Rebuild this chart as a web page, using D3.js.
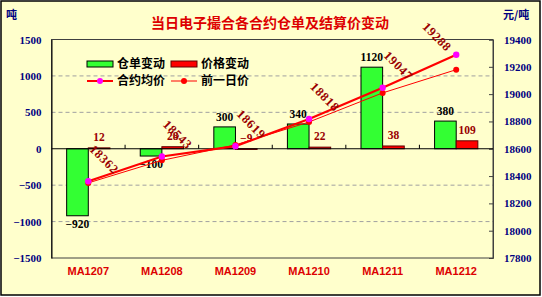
<!DOCTYPE html>
<html>
<head>
<meta charset="utf-8">
<script src="https://cdn.jsdelivr.net/npm/d3@7"></script>
<style>
  body { margin: 0; background: #fff; }
  svg { display: block; }
</style>
</head>
<body>
<script>
// chart size
const width = 542;
const height = 297;

// data
const contracts = ["MA1207", "MA1208", "MA1209", "MA1210", "MA1211", "MA1212"];
const warrantChange = [-920, -100, 300, 340, 1120, 380];
const priceChange = [12, 28, -9, 22, 38, 109];
const avgPrice = [18362, 18543, 18619, 18818, 19047, 19288];
const prevPrice = [18350, 18515, 18628, 18796, 19009, 19179];
const leftTicks = [-1500, -1000, -500, 0, 500, 1000, 1500];
const rightTicks = [17800, 18000, 18200, 18400, 18600, 18800, 19000, 19200, 19400];

// plot area
const plot = { left: 51.5, right: 493, top: 39.5, bottom: 258 };

const numFont = "'Liberation Serif', 'Times New Roman', serif";
const cjkFont = "'Noto Sans CJK SC', sans-serif";

var svg = d3.select("body").append("svg")
  .attr("width", width)
  .attr("height", height);

// background and outer frame
svg.append("rect")
  .attr("x", 1).attr("y", 1)
  .attr("width", width - 3).attr("height", height - 3)
  .style("fill", "#ffffcc")
  .style("stroke", "#000")
  .style("stroke-width", 1.5);

// scales
var x = d3.scaleBand().domain(contracts).range([plot.left, plot.right]);
var xSub = d3.scaleBand().domain(["warrant", "price"])
  .range([x.bandwidth() * 0.206, x.bandwidth() * 0.794]);
var yL = d3.scaleLinear().domain([-1500, 1500]).range([plot.bottom, plot.top]);
var yR = d3.scaleLinear().domain([17800, 19400]).range([plot.bottom, plot.top]);
const cx = d => x(d) + x.bandwidth() / 2;
const minus = v => String(v).replace("-", "\u2212");

// dashed grid lines from left axis
svg.append("g").selectAll("line")
  .data(leftTicks.filter(d => d !== 0 && Math.abs(d) !== 1500))
  .enter().append("line")
  .attr("x1", plot.left).attr("x2", plot.right)
  .attr("y1", d => yL(d)).attr("y2", d => yL(d))
  .style("stroke", "#a0a0a0")
  .style("stroke-dasharray", "4,3");

// plot border
svg.append("rect")
  .attr("x", plot.left).attr("y", plot.top)
  .attr("width", plot.right - plot.left).attr("height", plot.bottom - plot.top)
  .style("fill", "none")
  .style("stroke", "#404040");

// left axis
var gL = svg.append("g")
  .attr("transform", "translate(" + plot.left + ",0)")
  .call(d3.axisLeft(yL).tickValues(leftTicks).tickSize(0).tickPadding(10).tickFormat(minus));
gL.select(".domain").style("stroke", "#000");
gL.selectAll("text")
  .style("font-family", numFont).style("font-weight", "bold")
  .style("font-size", "11px").style("fill", "#000080");

// right axis
var gR = svg.append("g")
  .attr("transform", "translate(" + plot.right + ",0)")
  .call(d3.axisRight(yR).tickValues(rightTicks).tickSize(-4).tickPadding(11).tickFormat(d3.format("d")));
gR.select(".domain").style("stroke", "#404040");
gR.selectAll("line").style("stroke", "#404040");
gR.selectAll("text")
  .style("font-family", numFont).style("font-weight", "bold")
  .style("font-size", "11px").style("fill", "#000080");

// bars
var groups = svg.append("g").selectAll("g")
  .data(contracts)
  .enter().append("g")
  .attr("transform", d => "translate(" + x(d) + ",0)");

groups.append("rect")
  .attr("x", xSub("warrant"))
  .attr("width", xSub.bandwidth())
  .attr("y", (d, i) => yL(Math.max(0, warrantChange[i])))
  .attr("height", (d, i) => Math.abs(yL(warrantChange[i]) - yL(0)))
  .style("fill", "#33ff33")
  .style("stroke", "#000")
  .style("stroke-width", 1);

groups.append("rect")
  .attr("x", xSub("price"))
  .attr("width", xSub.bandwidth())
  .attr("y", (d, i) => yL(Math.max(0, priceChange[i])))
  .attr("height", (d, i) => Math.abs(yL(priceChange[i]) - yL(0)))
  .style("fill", "#ff0000")
  .style("stroke", "#600000")
  .style("stroke-width", 1);

// zero line with category ticks
svg.append("line")
  .attr("x1", plot.left).attr("x2", plot.right)
  .attr("y1", yL(0)).attr("y2", yL(0))
  .style("stroke", "#000");
svg.append("g").selectAll("line")
  .data(contracts.slice(1))
  .enter().append("line")
  .attr("x1", d => x(d)).attr("x2", d => x(d))
  .attr("y1", yL(0)).attr("y2", yL(0) - 4)
  .style("stroke", "#000");

// bar labels
groups.append("text")
  .attr("x", xSub("warrant") + xSub.bandwidth() / 2)
  .attr("y", (d, i) => warrantChange[i] >= 0 ? yL(warrantChange[i]) - 6 : yL(warrantChange[i]) + 12)
  .attr("text-anchor", "middle")
  .style("font-family", numFont).style("font-weight", "bold").style("font-size", "11.5px")
  .style("fill", "#000")
  .text((d, i) => minus(warrantChange[i]));

groups.append("text")
  .attr("x", xSub("price") + xSub.bandwidth() / 2)
  .attr("y", (d, i) => yL(Math.max(0, priceChange[i])) - 7)
  .attr("text-anchor", "middle")
  .style("font-family", numFont).style("font-weight", "bold").style("font-size", "11.5px")
  .style("fill", "#990000")
  .text((d, i) => minus(priceChange[i]));

// lines
var line = d3.line()
  .x((d, i) => cx(contracts[i]))
  .y(d => yR(d));

svg.append("path")
  .datum(prevPrice)
  .attr("d", line)
  .style("fill", "none")
  .style("stroke", "#ff0000")
  .style("stroke-width", 1);

svg.append("path")
  .datum(avgPrice)
  .attr("d", line)
  .style("fill", "none")
  .style("stroke", "#ff0000")
  .style("stroke-width", 2.2);

svg.append("g").selectAll("circle")
  .data(prevPrice)
  .enter().append("circle")
  .attr("cx", (d, i) => cx(contracts[i]))
  .attr("cy", d => yR(d))
  .attr("r", 3)
  .style("fill", "#ff0000");

svg.append("g").selectAll("circle")
  .data(avgPrice)
  .enter().append("circle")
  .attr("cx", (d, i) => cx(contracts[i]))
  .attr("cy", d => yR(d))
  .attr("r", 3.2)
  .style("fill", "#ff00ff");

// rotated average price labels
svg.append("g").selectAll("text")
  .data(avgPrice)
  .enter().append("text")
  .attr("transform", function (d, i) {
    var px = cx(contracts[i]);
    var last = px + 40 > plot.right;
    var dx = last ? -19 : 16;
    var dy = last ? -18 : -22;
    return "translate(" + (px + dx) + "," + (yR(d) + dy) + ") rotate(45)";
  })
  .attr("text-anchor", "middle")
  .attr("dy", "0.35em")
  .style("font-family", numFont).style("font-weight", "bold").style("font-size", "12.5px")
  .style("letter-spacing", "0.8px")
  .style("fill", "#990000")
  .text(d => d);

// category labels
svg.append("g").selectAll("text")
  .data(contracts)
  .enter().append("text")
  .attr("x", d => cx(d))
  .attr("y", 275)
  .attr("text-anchor", "middle")
  .style("font-family", "'Liberation Sans', Arial, sans-serif")
  .style("font-weight", "bold").style("font-size", "11px")
  .style("fill", "#dd0000")
  .text(d => d);

// title and units
svg.append("text")
  .attr("x", 270).attr("y", 28)
  .attr("text-anchor", "middle")
  .style("font-family", cjkFont).style("font-weight", "bold").style("font-size", "14px")
  .style("fill", "#dd0000")
  .text("当日电子撮合各合约仓单及结算价变动");

svg.append("text")
  .attr("x", 6).attr("y", 19)
  .style("font-family", cjkFont).style("font-weight", "bold").style("font-size", "11px")
  .style("fill", "#000080")
  .text("吨");

svg.append("text")
  .attr("x", 503).attr("y", 19)
  .style("font-family", cjkFont).style("font-weight", "bold").style("font-size", "11px")
  .style("fill", "#000080")
  .text("元/吨");

// legend
const legendItems = [
  { name: "仓单变动", type: "bar", color: "#33ff33", stroke: "#000" },
  { name: "价格变动", type: "bar", color: "#ff0000", stroke: "#600000" },
  { name: "合约均价", type: "line", color: "#ff00ff", width: 2 },
  { name: "前一日价", type: "line", color: "#ff0000", width: 1 }
];
var legend = svg.append("g").selectAll("g")
  .data(legendItems)
  .enter().append("g")
  .attr("transform", (d, i) => "translate(" + (87 + (i % 2) * 84) + "," + (64 + Math.floor(i / 2) * 17) + ")");

legend.filter(d => d.type === "bar").append("rect")
  .attr("x", 0).attr("y", -3).attr("width", 26).attr("height", 6)
  .style("fill", d => d.color).style("stroke", d => d.stroke);
legend.filter(d => d.type === "line").append("line")
  .attr("x1", 0).attr("x2", 26).attr("y1", 0).attr("y2", 0)
  .style("stroke", "#ff0000").style("stroke-width", d => d.width);
legend.filter(d => d.type === "line").append("circle")
  .attr("cx", 13).attr("cy", 0).attr("r", 3)
  .style("fill", d => d.color);
legend.append("text")
  .attr("x", 30).attr("y", 0).attr("dy", "0.36em")
  .style("font-family", cjkFont).style("font-weight", "bold").style("font-size", "12px")
  .style("fill", "#000")
  .text(d => d.name);
</script>
</body>
</html>
